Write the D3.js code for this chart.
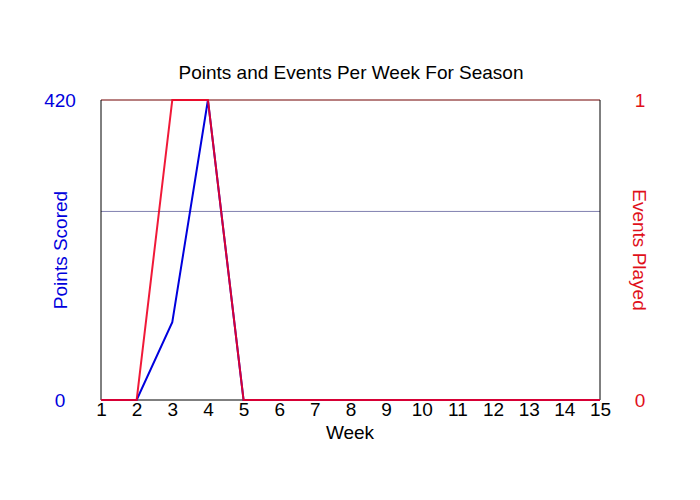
<!DOCTYPE html>
<html lang="en">
<head>
<meta charset="UTF-8">
<title>Points and Events Per Week For Season</title>
<script src="https://d3js.org/d3.v7.min.js"></script>
<style>
  body { margin: 0; background: #fff; font-family: "Liberation Sans", Arial, sans-serif; }
  svg text { font-family: "Liberation Sans", Arial, sans-serif; }
</style>
</head>
<body>
<div id="chart"></div>
<script>
// data
const weeks = [1, 2, 3, 4, 5, 6, 7, 8, 9, 10, 11, 12, 13, 14, 15];
const pointsScored = [0, 0, 109, 420, 0, 0, 0, 0, 0, 0, 0, 0, 0, 0, 0];
const eventsPlayed = [0, 0, 1, 1, 0, 0, 0, 0, 0, 0, 0, 0, 0, 0, 0];
const pointsTicks = [0, 420];
const eventsTicks = [0, 1];
const refLine = 264;

const width = 700, height = 500;
const margin = { top: 100, right: 100, bottom: 100, left: 101 };
const fontSize = "19px";

const svg = d3.select("#chart").append("svg")
    .attr("width", width)
    .attr("height", height);

const x = d3.scaleLinear().domain([1, 15]).range([margin.left, width - margin.right]);
const yL = d3.scaleLinear().domain([0, 420]).range([height - margin.bottom, margin.top]);
const yR = d3.scaleLinear().domain([0, 1]).range([height - margin.bottom, margin.top]);

// title
svg.append("text")
    .attr("x", 351).attr("y", 79)
    .attr("text-anchor", "middle")
    .style("font-size", fontSize)
    .text("Points and Events Per Week For Season");

// reference line
svg.append("line")
    .attr("x1", x(1)).attr("x2", x(15))
    .attr("y1", yL(refLine)).attr("y2", yL(refLine))
    .attr("stroke", "#8080b0").attr("stroke-width", 1);

// frame
svg.append("line").attr("x1", x(1)).attr("x2", x(15)).attr("y1", yL(420)).attr("y2", yL(420))
    .attr("stroke", "#700000").attr("stroke-width", 1);
svg.append("line").attr("x1", x(1)).attr("x2", x(1)).attr("y1", yL(420)).attr("y2", yL(0))
    .attr("stroke", "#000").attr("stroke-width", 1);
svg.append("line").attr("x1", x(15)).attr("x2", x(15)).attr("y1", yL(420)).attr("y2", yL(0))
    .attr("stroke", "#000").attr("stroke-width", 1);
svg.append("line").attr("x1", x(1)).attr("x2", x(15)).attr("y1", yL(0)).attr("y2", yL(0))
    .attr("stroke", "#000").attr("stroke-width", 1);

// x axis tick labels
const xAxis = svg.append("g")
    .attr("transform", `translate(0,${height - margin.bottom})`)
    .call(d3.axisBottom(x).tickValues(weeks).tickSize(0).tickPadding(2).tickFormat(d3.format("d")));
xAxis.select(".domain").remove();
xAxis.selectAll("text").style("font-size", fontSize).attr("fill", "#000");

// left axis labels
const leftAxis = svg.append("g")
    .attr("transform", `translate(${margin.left - 41},0)`)
    .call(d3.axisLeft(yL).tickValues(pointsTicks).tickSize(0).tickPadding(0).tickFormat(d3.format("d")));
leftAxis.select(".domain").remove();
leftAxis.selectAll("text").style("font-size", fontSize).attr("fill", "#0000dd")
    .attr("text-anchor", "middle").attr("x", 0);

// right axis labels
const rightAxis = svg.append("g")
    .attr("transform", `translate(${width - margin.right + 40},0)`)
    .call(d3.axisRight(yR).tickValues(eventsTicks).tickSize(0).tickPadding(0).tickFormat(d3.format("d")));
rightAxis.select(".domain").remove();
rightAxis.selectAll("text").style("font-size", fontSize).attr("fill", "#e0101a")
    .attr("text-anchor", "middle").attr("x", 0);

// axis titles
svg.append("text")
    .attr("transform", `translate(67,${(yL(0) + yL(420)) / 2}) rotate(-90)`)
    .attr("text-anchor", "middle")
    .attr("fill", "#0000dd")
    .style("font-size", fontSize)
    .text("Points Scored");

svg.append("text")
    .attr("transform", `translate(633,${(yR(0) + yR(1)) / 2}) rotate(90)`)
    .attr("text-anchor", "middle")
    .attr("fill", "#e0101a")
    .style("font-size", fontSize)
    .text("Events Played");

svg.append("text")
    .attr("x", 350).attr("y", 439)
    .attr("text-anchor", "middle")
    .style("font-size", fontSize)
    .text("Week");

// lines
const pointsLine = d3.line().x((d, i) => x(weeks[i])).y(d => yL(d));
const eventsLine = d3.line().x((d, i) => x(weeks[i])).y(d => yR(d));

svg.append("path")
    .datum(pointsScored)
    .attr("d", pointsLine)
    .attr("fill", "none")
    .attr("stroke", "#0000dd")
    .attr("stroke-width", 2);

svg.append("path")
    .datum(eventsPlayed)
    .attr("d", eventsLine)
    .attr("fill", "none")
    .attr("stroke", "#ee0022")
    .attr("stroke-opacity", 0.9)
    .attr("stroke-width", 2);
</script>
</body>
</html>
